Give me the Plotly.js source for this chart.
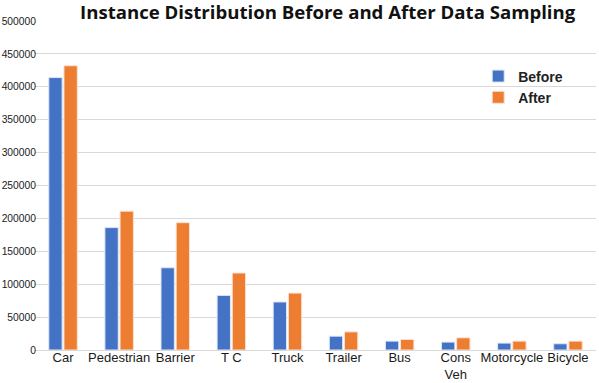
<!DOCTYPE html>
<html>
<head>
<meta charset="utf-8">
<script src="https://cdn.plot.ly/plotly-3.0.1.min.js"></script>
<style>html,body{margin:0;padding:0;background:#fff;}#chart{width:599px;height:383px;}</style>
</head>
<body>
<div id="chart"></div>
<script>
var categories = ["Car", "Pedestrian", "Barrier", "T C", "Truck", "Trailer", "Bus", "Cons<br>Veh", "Motorcycle", "Bicycle"];
var beforeValues = [414000, 186000, 125000, 83000, 73000, 21000, 13500, 12000, 10500, 9500];
var afterValues = [432000, 211000, 193500, 117000, 86500, 27500, 16000, 18500, 13500, 13500];
var yTicks = [0, 50000, 100000, 150000, 200000, 250000, 300000, 350000, 400000, 450000, 500000];

var traces = [
  {type: "bar", name: "Before", x: categories, y: beforeValues,
   marker: {color: "#4472C4", line: {color: "#dfe6f5", width: 1}}},
  {type: "bar", name: "After", x: categories, y: afterValues,
   marker: {color: "#ED7D31", line: {color: "#fbe2d2", width: 1}}}
];

var layout = {
  width: 599, height: 383,
  margin: {l: 35, r: 3, t: 21, b: 33},
  paper_bgcolor: "#fff", plot_bgcolor: "#fff",
  barmode: "group", bargap: 0.46, bargroupgap: 0.12,
  title: {text: "<b>Instance Distribution Before and After Data Sampling</b>",
          font: {family: "Open Sans", size: 18.6, color: "#111"},
          x: 0.547, xanchor: "center", y: 0.968, yanchor: "middle"},
  xaxis: {tickfont: {family: "Liberation Sans, Arial", size: 13, color: "#1a1a1a"},
          showgrid: false, showline: false, ticks: "", tickangle: 0, ticklabelstandoff: -2},
  yaxis: {range: [0, 500000], tickvals: yTicks, ticktext: yTicks.map(String),
          tickfont: {family: "Liberation Sans, Arial", size: 10.3, color: "#1a1a1a"},
          showgrid: true, gridcolor: "#d9d9d9", gridwidth: 1,
          zeroline: true, zerolinecolor: "#d9d9d9", zerolinewidth: 1,
          ticks: "", ticklabelstandoff: -2},
  showlegend: true,
  legend: {x: 0.79, y: 0.88, xanchor: "left", yanchor: "top",
           font: {family: "Liberation Sans, Arial", size: 14, color: "#222", weight: "bold"},
           bgcolor: "rgba(0,0,0,0)"}
};

Plotly.newPlot("chart", traces, layout, {displayModeBar: false, staticPlot: true});
</script>
</body>
</html>
